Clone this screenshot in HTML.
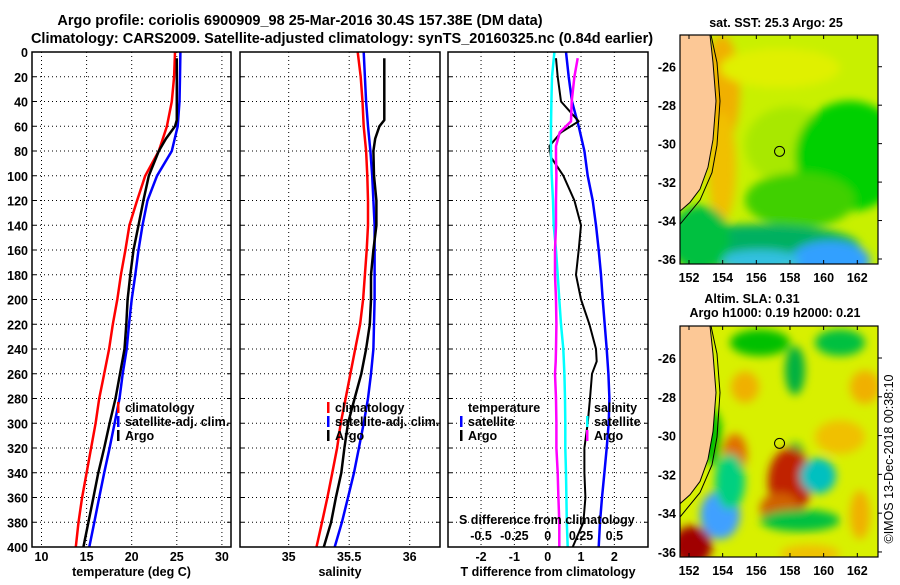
<!DOCTYPE html>
<html><head><meta charset="utf-8">
<style>
html,body{margin:0;padding:0;background:#fff;}
svg text{font-family:"Liberation Sans",Arial,sans-serif;font-weight:bold;fill:#000;}
</style></head>
<body>
<svg id="fig" xmlns="http://www.w3.org/2000/svg" width="900" height="580" viewBox="0 0 900 580">
<rect width="900" height="580" fill="#fff"/>
<text x="300" y="25" font-size="14.5" text-anchor="middle">Argo profile: coriolis 6900909_98 25-Mar-2016 30.4S 157.38E (DM data)</text>
<text x="342" y="43" font-size="14.5" text-anchor="middle">Climatology: CARS2009. Satellite-adjusted climatology: synTS_20160325.nc (0.84d earlier)</text>
<g id="plots"></g>
<g id="maps"></g>
<text transform="translate(893,459) rotate(-90)" font-size="12.5" text-anchor="middle" style="font-weight:normal">©IMOS 13-Dec-2018 00:38:10</text>
</svg>
<script>
// ---- data (depth every 20 m unless listed) ----
const depths = [0,20,40,60,80,100,120,140,160,180,200,220,240,260,280,300,320,340,360,380,400];
const tempClim = [24.8,24.7,24.45,23.9,23.0,21.5,20.6,19.75,19.3,18.8,18.4,17.9,17.5,16.95,16.4,16.0,15.5,15.0,14.5,14.1,13.8];
const tempSat = [25.4,25.35,25.3,25.1,24.45,22.8,21.75,21.2,20.75,20.4,20.0,19.7,19.45,19.0,18.65,18.1,17.55,16.95,16.4,15.85,15.3];
const argoDepths = [5,20,40,55,60,70,80,100,120,140,160,180,200,220,240,260,280,300,320,340,360,380,400];
const tempArgo = [25.0,25.0,25.0,25.0,24.8,23.8,23.0,21.9,21.3,20.75,20.2,19.85,19.55,19.4,19.2,18.7,18.2,17.55,16.95,16.3,15.75,15.2,14.65];
const salClim = [35.57,35.595,35.61,35.62,35.64,35.65,35.655,35.655,35.645,35.63,35.615,35.59,35.55,35.51,35.47,35.43,35.40,35.36,35.32,35.275,35.23];
const salSat = [35.62,35.63,35.64,35.655,35.675,35.69,35.70,35.71,35.71,35.71,35.71,35.705,35.70,35.68,35.655,35.62,35.58,35.54,35.49,35.44,35.38];
const salArgo = [35.79,35.79,35.79,35.79,35.75,35.715,35.70,35.705,35.725,35.725,35.70,35.68,35.68,35.67,35.64,35.60,35.545,35.49,35.46,35.435,35.39,35.35,35.29];
const dTempSat = [0.55,0.63,0.73,0.93,1.1,1.2,1.35,1.45,1.53,1.6,1.65,1.71,1.77,1.82,1.85,1.83,1.77,1.70,1.63,1.57,1.53];
const diffArgoDepths = [5,20,40,56,65,76,85,100,120,140,160,180,200,220,240,250,260,280,300,320,340,360,380,400];
const dTempArgo = [0.25,0.3,0.4,0.93,0.4,0.05,0.1,0.47,0.8,1.0,0.93,0.85,1.0,1.25,1.45,1.47,1.33,1.27,1.2,1.1,1.1,1.13,1.07,0.75];
const dSalSat = [0.05,0.032,0.028,0.025,0.025,0.03,0.04,0.045,0.062,0.075,0.087,0.10,0.117,0.125,0.13,0.132,0.132,0.137,0.14,0.143,0.15];
const dSalArgo = [0.225,0.20,0.18,0.175,0.09,0.062,0.062,0.065,0.062,0.062,0.055,0.055,0.062,0.065,0.062,0.06,0.055,0.062,0.065,0.065,0.075,0.08,0.087,0.087];
const depthTicks = [0,20,40,60,80,100,120,140,160,180,200,220,240,260,280,300,320,340,360,380,400];
const tempTicks = [10,15,20,25,30];
const salTicks = [35,35.5,36];
const salTickLabels = ["35","35.5","36"];
const tDiffTicks = [-2,-1,0,1,2];
const sDiffTicks = [-0.5,-0.25,0,0.25,0.5];
const sDiffTickLabels = ["-0.5","-0.25","0","0.25","0.5"];

const NS="http://www.w3.org/2000/svg";
function mk(tag,attrs,parent){const e=document.createElementNS(NS,tag);for(const k in attrs)e.setAttribute(k,attrs[k]);if(parent)parent.appendChild(e);return e;}
const yTop=52, yBot=547;
function yD(d){return yTop+(d/400)*(yBot-yTop);}
const xT=v=>41.5+(v-10)*9.02;
const xS=v=>288.7+(v-35)*121;
const xTd=v=>547.7+v*33.33;
const xSd=v=>547.7+v*133.3;
const plots=document.getElementById('plots');

function panel(name,x0,x1,xTicksPx,labels,xlabel,showY){
  const g=mk('g',{},plots);
  
  
  depthTicks.forEach(d=>{if(d>0&&d<400)mk('line',{x1:x0,x2:x1,y1:yD(d),y2:yD(d),stroke:'#000','stroke-width':1,'stroke-dasharray':'1,3'},g);});
  xTicksPx.forEach(x=>{mk('line',{x1:x,x2:x,y1:yTop,y2:yBot,stroke:'#000','stroke-width':1,'stroke-dasharray':'1,3'},g);});
  depthTicks.forEach(d=>{mk('line',{x1:x0,x2:x0+4,y1:yD(d),y2:yD(d),stroke:'#000'},g);mk('line',{x1:x1-4,x2:x1,y1:yD(d),y2:yD(d),stroke:'#000'},g);});
  if(labels){labels.forEach((l,i)=>{const t=mk('text',{x:xTicksPx[i],y:561,'font-size':12.5,'text-anchor':'middle'},g);t.textContent=l;
    
    });}
  const xl=mk('text',{x:(x0+x1)/2,y:576,'font-size':12.5,'text-anchor':'middle'},g);xl.textContent=xlabel;
  
  
  if(showY){depthTicks.forEach(d=>{const t=mk('text',{x:28,y:yD(d)+5,'font-size':12.5,'text-anchor':'end'},g);t.textContent=d;
    
    });}
  return g;
}
function line(g,xs,ds,fx,color,w,name){
  const pts=xs.map((v,i)=>fx(v).toFixed(1)+','+yD(ds[i]).toFixed(1)).join(' ');
  const p=mk('polyline',{points:pts,fill:'none',stroke:color,'stroke-width':w,'stroke-linejoin':'round'},g);
  
  
}
function frame(g,x0,x1){mk('rect',{x:x0,y:yTop,width:x1-x0,height:yBot-yTop,fill:'none',stroke:'#000','stroke-width':1.5},g);}
function legend(g,x,y,items){items.forEach((it,i)=>{
  if(it.c){const b=mk('rect',{x:x-8,y:y+i*14-10,width:2.5,height:11,fill:it.c},g);
    
    }
  const t=mk('text',{x:x,y:y+i*14,'font-size':12.5},g);t.textContent=it.t;
  
  });}

let g1=panel('temperature-panel',32,231,tempTicks.map(xT),tempTicks.map(String),'temperature (deg C)',true);
line(g1,tempClim,depths,xT,'#f00',2.5,'temp-climatology-line');
line(g1,tempSat,depths,xT,'#00f',2.5,'temp-satellite-line');
line(g1,tempArgo,argoDepths,xT,'#000',2.5,'temp-argo-line');
legend(g1,125,412,[{c:'#f00',t:'climatology'},{c:'#00f',t:'satellite-adj. clim.'},{c:'#000',t:'Argo'}]);
frame(g1,32,231);
let g2=panel('salinity-panel',240,440,salTicks.map(xS),salTickLabels,'salinity',false);
line(g2,salClim,depths,xS,'#f00',2.5,'sal-climatology-line');
line(g2,salSat,depths,xS,'#00f',2.5,'sal-satellite-line');
line(g2,salArgo,argoDepths,xS,'#000',2.5,'sal-argo-line');
legend(g2,335,412,[{c:'#f00',t:'climatology'},{c:'#00f',t:'satellite-adj. clim.'},{c:'#000',t:'Argo'}]);
frame(g2,240,440);
let g3=panel('difference-panel',448,648,tDiffTicks.map(xTd),tDiffTicks.map(String),'T difference from climatology',false);
line(g3,dTempSat,depths,xTd,'#00f',2.5,'tdiff-satellite-line');
line(g3,dTempArgo,diffArgoDepths,xTd,'#000',2,'tdiff-argo-line');
line(g3,dSalSat,depths,xSd,'#0ff',2.5,'sdiff-satellite-line');
line(g3,dSalArgo,diffArgoDepths,xSd,'#f0f',2.5,'sdiff-argo-line');
legend(g3,468,412,[{t:'temperature'},{c:'#00f',t:'satellite'},{c:'#000',t:'Argo'}]);
legend(g3,594,412,[{t:'salinity'},{c:'#0ff',t:'satellite'},{c:'#f0f',t:'Argo'}]);
{const t=mk('text',{x:459,y:524,'font-size':12.5},g3);t.textContent='S difference from climatology';
 
 
 sDiffTicks.forEach((v,i)=>{const l=mk('text',{x:xSd(v),y:540,'font-size':12.5,'text-anchor':'middle'},g3);l.textContent=sDiffTickLabels[i];
 
 });}
frame(g3,448,648);

// ---- maps ----
const lonTicks=[152,154,156,158,160,162];
const latTicks=[-26,-28,-30,-32,-34,-36];
const maps=document.getElementById('maps');
const defs=mk('defs',{},maps);
const f=mk('filter',{id:'bl',x:'-50%',y:'-50%',width:'200%',height:'200%'},defs);mk('feGaussianBlur',{stdDeviation:4.5},f);
function mapPanel(name,y0,y1,latTop,latBot,blobs,base){
  const x0=680,x1=878;
  const k=(y1-y0)/208;
  const g=mk('g',{},maps);
  
  
  const cp=mk('clipPath',{id:'c'+y0},defs);mk('rect',{x:x0,y:y0,width:x1-x0,height:y1-y0},cp);
  const inner=mk('g',{'clip-path':'url(#c'+y0+')'},g);
  mk('rect',{x:x0,y:y0,width:x1-x0,height:y1-y0,fill:base},inner);
  const bg=mk('g',{filter:'url(#bl)'},inner);
  blobs.forEach(b=>mk('ellipse',{cx:b[0],cy:y0+b[1]*k,rx:b[2],ry:b[3]*k,fill:b[4]},bg));
  const lx=lon=>689+(lon-152)*16.83;
  const ly=lat=>y0+(latTop-lat)/(latTop-latBot)*(y1-y0);
  const land=[[680,0],[710,0],[713,25],[716,60],[713,95],[708,120],[700,140],[690,152],[680,160]].map(p=>[p[0],y0+p[1]*k]);
  mk('polygon',{points:land.map(p=>p.join(',')).join(' '),fill:'#fcc896'},inner);
  const iso=[[711,0],[717,25],[720,60],[717,100],[712,125],[700,150],[680,172]].map(p=>[p[0],y0+p[1]*k]);
  mk('polyline',{points:iso.map(p=>p.join(',')).join(' '),fill:'none',stroke:'#000','stroke-width':1},inner);
  mk('polyline',{points:land.map(p=>p.join(',')).join(' '),fill:'none',stroke:'#000','stroke-width':1},inner);
  const c=mk('circle',{cx:lx(157.38),cy:ly(-30.4),r:5,fill:'none',stroke:'#000','stroke-width':1},g);
  
  
  mk('rect',{x:x0,y:y0,width:x1-x0,height:y1-y0,fill:'none',stroke:'#000','stroke-width':1.2},g);
  lonTicks.forEach(l=>{mk('line',{x1:lx(l),x2:lx(l),y1:y1,y2:y1-4,stroke:'#000'},g);mk('line',{x1:lx(l),x2:lx(l),y1:y0,y2:y0+4,stroke:'#000'},g);
    const t=mk('text',{x:lx(l),y:y1+18,'font-size':12.5,'text-anchor':'middle'},g);t.textContent=l;
    
    });
  latTicks.forEach(l=>{mk('line',{x1:x1,x2:x1+4,y1:ly(l),y2:ly(l),stroke:'#000'},g);
    const t=mk('text',{x:676,y:ly(l)+5,'font-size':12.5,'text-anchor':'end'},g);t.textContent=l;
    
    });
}
mapPanel('sst-map',35,264,-24.35,-36.26,[
 [722,50,18,50,'#f0b000'],[722,120,14,50,'#f0c000'],[780,30,60,18,'#e0f000'],[790,100,45,35,'#a8e800'],
 [850,110,55,50,'#00d000'],[800,150,55,25,'#40d000'],[760,192,100,20,'#00b060'],[830,205,40,18,'#30a0ff'],[760,205,40,10,'#30c0e0'],[700,185,30,30,'#00c040']
],'#c8f000');
mapPanel('sla-map',326,557,-24.35,-36.26,[
 [760,15,30,12,'#00c000'],[840,15,25,12,'#00c040'],[745,55,14,14,'#f0b000'],[795,40,10,22,'#00b040'],[865,55,15,15,'#f0b000'],[712,100,10,25,'#00c000'],
 [735,115,12,18,'#e07000'],[795,120,10,15,'#00b040'],[790,140,22,30,'#c02000'],[780,165,20,15,'#d06000'],[840,100,25,15,'#f0c000'],
 [818,135,18,16,'#00c0c0'],[720,170,12,14,'#0000b0'],[720,170,20,22,'#40a0ff'],[692,198,20,18,'#a00000'],
 [800,175,40,10,'#00c040'],[860,170,10,22,'#f0b000'],[730,140,15,25,'#00d080'],[810,205,30,8,'#f0c000']
],'#d8f000');
{const a=mk('text',{x:776,y:27,'font-size':12.5,'text-anchor':'middle'},maps);a.textContent='sat. SST: 25.3 Argo: 25';
 
 
 const b=mk('text',{x:752,y:303,'font-size':12.5,'text-anchor':'middle'},maps);b.textContent='Altim. SLA: 0.31';
 
 
 const c=mk('text',{x:775,y:317,'font-size':12.5,'text-anchor':'middle'},maps);c.textContent='Argo h1000: 0.19 h2000: 0.21';
 
 }
</script>
</body></html>
